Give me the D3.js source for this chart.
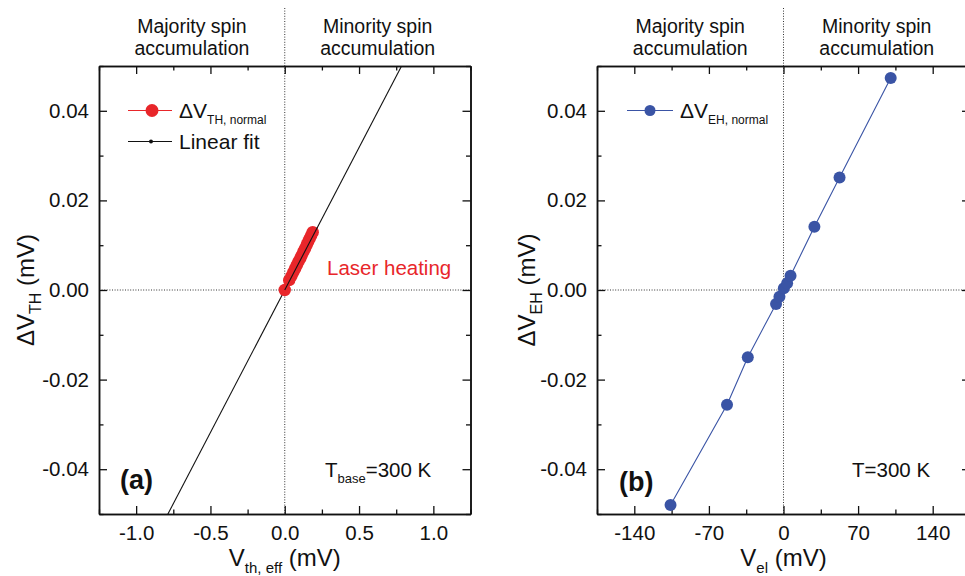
<!DOCTYPE html>
<html>
<head>
<meta charset="utf-8">
<script src="https://cdn.jsdelivr.net/npm/d3@7"></script>
<style>
  html, body { margin: 0; padding: 0; background: #fff; }
  svg { display: block; font-family: "Liberation Sans", Arial, sans-serif; }
</style>
</head>
<body>
<svg id="chart" width="965" height="576"></svg>
<script>
// Panel (a): laser-heating thermal voltage vs effective thermovoltage
const thermoX = [0.000, 0.030, 0.045, 0.058, 0.070, 0.082, 0.093, 0.105, 0.115, 0.126, 0.137, 0.148, 0.158, 0.168, 0.178, 0.188];
const thermoY = [0.0000, 0.0022, 0.0031, 0.0040, 0.0048, 0.0056, 0.0064, 0.0071, 0.0078, 0.0086, 0.0093, 0.0101, 0.0108, 0.0115, 0.0122, 0.0129];
// Linear fit of panel (a)
const fitSlope = 0.0636;
const fitIntercept = 0.0;

// Panel (b): electrical spin signal vs applied voltage
const elecX = [-106, -53, -33.5, -7, -3.8, 0.3, 3.4, 6.6, 29, 52.6, 100.6];
const elecY = [-0.0480, -0.0256, -0.0150, -0.0031, -0.0015, 0.0004, 0.0015, 0.0032, 0.0141, 0.0251, 0.0473];

// Axis ticks
const yMajor = [-0.04, -0.02, 0.00, 0.02, 0.04];
const yMinor = [-0.05, -0.03, -0.01, 0.01, 0.03, 0.05];
const aMajor = [-1.0, -0.5, 0.0, 0.5, 1.0];
const aMinor = [-1.25, -0.75, -0.25, 0.25, 0.75, 1.25];
const bMajor = [-140, -70, 0, 70, 140];
const bMinor = [-175, -105, -35, 35, 105, 175];

const RED = "#e8262a";
const BLUE = "#3a54a5";
const TICK_FONT = 20.5;

const svg = d3.select("#chart");

function panel(opt) {
  const x = d3.scaleLinear().domain(opt.xDomain).range([opt.left, opt.right]);
  const y = d3.scaleLinear().domain([-0.05, 0.05]).range([514, 66]);
  const g = svg.append("g");

  const clipId = "clip-" + opt.id;
  svg.append("clipPath").attr("id", clipId)
    .append("rect").attr("x", opt.left).attr("y", 66)
    .attr("width", opt.right - opt.left).attr("height", 514 - 66);

  // zero lines
  g.append("line")
    .attr("x1", x(0)).attr("x2", x(0)).attr("y1", 8).attr("y2", y(-0.05))
    .attr("stroke", "#333").attr("stroke-width", 1).attr("stroke-dasharray", "1,1.6");
  g.append("line")
    .attr("x1", opt.left).attr("x2", opt.right).attr("y1", y(0)).attr("y2", y(0))
    .attr("stroke", "#333").attr("stroke-width", 1).attr("stroke-dasharray", "1,1.6");

  // axes (all four sides, inward ticks)
  const styleAxis = sel => {
    sel.select(".domain").attr("stroke", "#111").attr("stroke-width", 1.5);
    sel.selectAll(".tick line").attr("stroke", "#111").attr("stroke-width", 1.3);
    sel.selectAll(".tick text").attr("fill", "#111").attr("font-size", TICK_FONT)
      .attr("font-family", "Liberation Sans, Arial, sans-serif");
  };
  const addAxis = (gen, tx, ty) => g.append("g").attr("transform", `translate(${tx},${ty})`).call(gen).call(styleAxis);

  addAxis(d3.axisBottom(x).tickValues(opt.xMajor).tickSize(-8).tickSizeOuter(0).tickPadding(11).tickFormat(opt.xFmt), 0, 514);
  addAxis(d3.axisBottom(x).tickValues(opt.xMinor).tickSize(-4.5).tickSizeOuter(0).tickFormat(""), 0, 514);
  addAxis(d3.axisTop(x).tickValues(opt.xMajor).tickSize(-8).tickSizeOuter(0).tickFormat(""), 0, 66);
  addAxis(d3.axisTop(x).tickValues(opt.xMinor).tickSize(-4.5).tickSizeOuter(0).tickFormat(""), 0, 66);
  addAxis(d3.axisLeft(y).tickValues(yMajor).tickSize(-8).tickSizeOuter(0).tickPadding(10).tickFormat(d3.format(".2f")), opt.left, 0);
  addAxis(d3.axisLeft(y).tickValues(yMinor).tickSize(-4.5).tickSizeOuter(0).tickFormat(""), opt.left, 0);
  addAxis(d3.axisRight(y).tickValues(yMajor).tickSize(-8).tickSizeOuter(0).tickFormat(""), opt.right, 0);
  addAxis(d3.axisRight(y).tickValues(yMinor).tickSize(-4.5).tickSizeOuter(0).tickFormat(""), opt.right, 0);
  g.selectAll(".tick text").text(function () { return d3.select(this).text().replace("−", "-"); });

  // header: spin accumulation regions
  const hdr = [["Majority spin", "accumulation", (opt.left + x(0)) / 2], ["Minority spin", "accumulation", (x(0) + opt.right) / 2]];
  hdr.forEach(([l1, l2, cx]) => {
    const t = g.append("text").attr("x", cx).attr("text-anchor", "middle").attr("font-size", 19.5).attr("fill", "#111");
    t.append("tspan").attr("x", cx).attr("y", 33).text(l1);
    t.append("tspan").attr("x", cx).attr("y", 55).text(l2);
  });

  // axis titles
  const xt = g.append("text").attr("x", (opt.left + opt.right) / 2).attr("y", 566)
    .attr("text-anchor", "middle").attr("font-size", 24).attr("fill", "#111");
  xt.append("tspan").text("V");
  xt.append("tspan").attr("font-size", 15).attr("dy", 7).text(opt.xSub);
  xt.append("tspan").attr("dy", -7).text(" (mV)");

  const yt = g.append("text").attr("transform", `translate(${opt.yTitleX},290) rotate(-90)`)
    .attr("text-anchor", "middle").attr("font-size", 24).attr("fill", "#111");
  yt.append("tspan").text("\u0394V");
  yt.append("tspan").attr("font-size", 16).attr("dy", 7).text(opt.ySub);
  yt.append("tspan").attr("dy", -7).text(" (mV)");

  return { g, x, y, clipId };
}

// ---- panel (a) ----
const A = panel({
  id: "a", left: 99, right: 470.5, xDomain: [-1.25, 1.25],
  xMajor: aMajor, xMinor: aMinor, xFmt: d3.format(".1f"),
  xSub: "th, eff", ySub: "TH", yTitleX: 34
});

// linear fit
A.g.append("line")
  .attr("clip-path", `url(#${A.clipId})`)
  .attr("x1", A.x(-1.25)).attr("y1", A.y(fitIntercept + fitSlope * -1.25))
  .attr("x2", A.x(1.25)).attr("y2", A.y(fitIntercept + fitSlope * 1.25))
  .attr("stroke", "#111").attr("stroke-width", 1.1);

const thermo = thermoX.map((v, i) => [v, thermoY[i]]);
A.g.append("path").datum(thermo)
  .attr("d", d3.line().x(d => A.x(d[0])).y(d => A.y(d[1])))
  .attr("fill", "none").attr("stroke", RED).attr("stroke-width", 1);
A.g.selectAll("circle.pt").data(thermo).join("circle").attr("class", "pt")
  .attr("cx", d => A.x(d[0])).attr("cy", d => A.y(d[1])).attr("r", 6.2).attr("fill", RED);
// fit line redrawn on top of the markers
A.g.append("line")
  .attr("clip-path", `url(#${A.clipId})`)
  .attr("x1", A.x(0)).attr("y1", A.y(fitIntercept))
  .attr("x2", A.x(0.22)).attr("y2", A.y(fitIntercept + fitSlope * 0.22))
  .attr("stroke", "#111").attr("stroke-width", 1.1);

A.g.append("text").attr("x", 327).attr("y", 275).attr("font-size", 20.5).attr("fill", RED).text("Laser heating");

// legend (a)
A.g.append("line").attr("x1", 128).attr("x2", 172).attr("y1", 110.5).attr("y2", 110.5).attr("stroke", RED).attr("stroke-width", 1.2);
A.g.append("circle").attr("cx", 152).attr("cy", 110.5).attr("r", 6.5).attr("fill", RED);
const la = A.g.append("text").attr("x", 179).attr("y", 118).attr("font-size", 21).attr("fill", "#111");
la.append("tspan").text("\u0394V");
la.append("tspan").attr("font-size", 12).attr("dy", 6).text("TH, normal");
A.g.append("line").attr("x1", 128).attr("x2", 172).attr("y1", 141.5).attr("y2", 141.5).attr("stroke", "#111").attr("stroke-width", 1.2);
A.g.append("circle").attr("cx", 151).attr("cy", 141.5).attr("r", 2).attr("fill", "#111");
A.g.append("text").attr("x", 179).attr("y", 149).attr("font-size", 21).attr("fill", "#111").text("Linear fit");

A.g.append("text").attr("x", 120).attr("y", 489).attr("font-size", 27).attr("font-weight", "bold").attr("fill", "#111").text("(a)");
const ta = A.g.append("text").attr("x", 325).attr("y", 477).attr("font-size", 20.5).attr("fill", "#111");
ta.append("tspan").text("T");
ta.append("tspan").attr("font-size", 13).attr("dy", 6).text("base");
ta.append("tspan").attr("dy", -6).text("=300 K");

// ---- panel (b) ----
const B = panel({
  id: "b", left: 597, right: 970, xDomain: [-175, 175],
  xMajor: bMajor, xMinor: bMinor, xFmt: d3.format("d"),
  xSub: "el", ySub: "EH", yTitleX: 535
});

const elec = elecX.map((v, i) => [v, elecY[i]]);
B.g.append("path").datum(elec)
  .attr("d", d3.line().x(d => B.x(d[0])).y(d => B.y(d[1])))
  .attr("fill", "none").attr("stroke", BLUE).attr("stroke-width", 1.1);
B.g.selectAll("circle.pt").data(elec).join("circle").attr("class", "pt")
  .attr("cx", d => B.x(d[0])).attr("cy", d => B.y(d[1])).attr("r", 6).attr("fill", BLUE);

// legend (b)
B.g.append("line").attr("x1", 627).attr("x2", 673).attr("y1", 110.5).attr("y2", 110.5).attr("stroke", BLUE).attr("stroke-width", 1.2);
B.g.append("circle").attr("cx", 650).attr("cy", 110.5).attr("r", 5.5).attr("fill", BLUE);
const lb = B.g.append("text").attr("x", 680).attr("y", 118).attr("font-size", 21).attr("fill", "#111");
lb.append("tspan").text("\u0394V");
lb.append("tspan").attr("font-size", 12).attr("dy", 6).text("EH, normal");

B.g.append("text").attr("x", 619).attr("y", 491).attr("font-size", 27).attr("font-weight", "bold").attr("fill", "#111").text("(b)");
B.g.append("text").attr("x", 852).attr("y", 477).attr("font-size", 20.5).attr("fill", "#111").text("T=300 K");
</script>
</body>
</html>
